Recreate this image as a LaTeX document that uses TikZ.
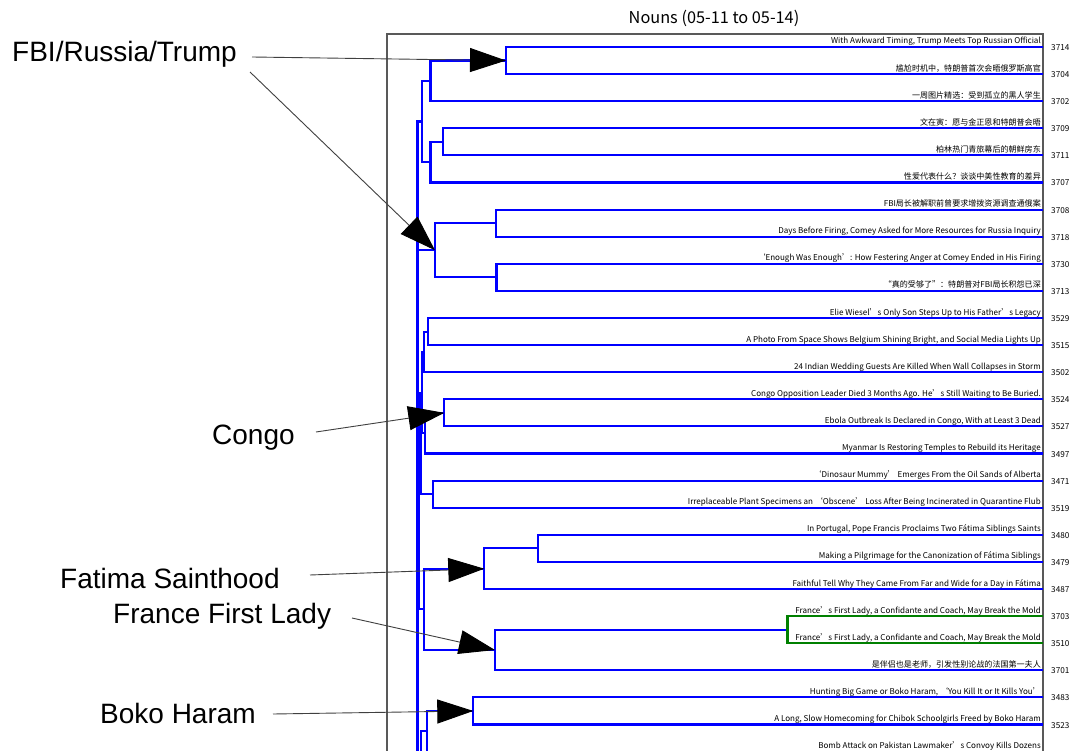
\documentclass[tikz,border=0pt]{standalone}
\usepackage{fontspec}
\setmainfont{Noto Sans CJK SC}
\newfontfamily\arialfont{Liberation Sans}
\usetikzlibrary{arrows.meta}
\tikzset{
  dend/.style={draw=blue, line width=2.1pt, line join=miter},
  dendg/.style={draw=green!50!black, line width=2.1pt, line join=miter},
  frame/.style={draw=black!65, line width=1.3pt},
  leaf/.style={anchor=base east, inner sep=0pt, font=\fontsize{8.05}{10}\selectfont},
  idl/.style={anchor=base west, inner sep=0pt, font=\fontsize{8.2}{10}\selectfont},
  big/.style={anchor=base west, inner sep=0pt, font=\arialfont\fontsize{28}{30}\selectfont},
  callout/.style={draw=black!75, line width=0.9pt, -{Triangle[length=36pt,width=24pt,black]}},
}
\begin{document}
\begin{tikzpicture}[x=1pt,y=-1pt]
\useasboundingbox (0,0) rectangle (1073,751);
\clip (0,0) rectangle (1073,751);
\fill[white] (0,0) rectangle (1073,751);
% title and frame
\node[font=\fontsize{16.3}{18}\selectfont, inner sep=0pt] (title) at (714,18) {Nouns (05-11 to 05-14)};
\draw[frame] (387,800) -- (387,34) -- (1043,34) -- (1043,800);
% leaf labels
\foreach [count=\i from 0] \n/\t in {
 3714/{With Awkward Timing, Trump Meets Top Russian Official},
 3704/{尴尬时机中，特朗普首次会晤俄罗斯高官},
 3702/{一周图片精选：受到孤立的黑人学生},
 3709/{文在寅：愿与金正恩和特朗普会晤},
 3711/{柏林热门青旅幕后的朝鲜房东},
 3707/{性爱代表什么？谈谈中美性教育的差异},
 3708/{FBI局长被解职前曾要求增拨资源调查通俄案},
 3718/{Days Before Firing, Comey Asked for More Resources for Russia Inquiry},
 3730/{‘Enough Was Enough’: How Festering Anger at Comey Ended in His Firing},
 3713/{“真的受够了”：特朗普对FBI局长积怨已深},
 3529/{Elie Wiesel’s Only Son Steps Up to His Father’s Legacy},
 3515/{A Photo From Space Shows Belgium Shining Bright, and Social Media Lights Up},
 3502/{24 Indian Wedding Guests Are Killed When Wall Collapses in Storm},
 3524/{Congo Opposition Leader Died 3 Months Ago. He’s Still Waiting to Be Buried.},
 3527/{Ebola Outbreak Is Declared in Congo, With at Least 3 Dead},
 3497/{Myanmar Is Restoring Temples to Rebuild its Heritage},
 3471/{‘Dinosaur Mummy’ Emerges From the Oil Sands of Alberta},
 3519/{Irreplaceable Plant Specimens an ‘Obscene’ Loss After Being Incinerated in Quarantine Flub},
 3480/{In Portugal, Pope Francis Proclaims Two Fátima Siblings Saints},
 3479/{Making a Pilgrimage for the Canonization of Fátima Siblings},
 3487/{Faithful Tell Why They Came From Far and Wide for a Day in Fátima},
 3703/{France’s First Lady, a Confidante and Coach, May Break the Mold},
 3510/{France’s First Lady, a Confidante and Coach, May Break the Mold},
 3701/{是伴侣也是老师，引发性别论战的法国第一夫人},
 3483/{Hunting Big Game or Boko Haram, ‘You Kill It or It Kills You’},
 3523/{A Long, Slow Homecoming for Chibok Schoolgirls Freed by Boko Haram},
 0000/{Bomb Attack on Pakistan Lawmaker’s Convoy Kills Dozens}}
{
  \node[leaf] (t\i) at (1041,{47+27.1*\i-3}) {\t};
  \ifnum\n>0 \node[idl] (n\i) at (1051,{47+27.1*\i+3.5}) {\n};\fi
}
% dendrogram
\draw[dend] (1043,47) -- (506,47) -- (506,74.1) -- (1043,74.1);
\draw[dend] (506,60.55) -- (430.5,60.55) -- (430.5,101.2) -- (1043,101.2);
\draw[dend] (1043,128.3) -- (443.3,128.3) -- (443.3,155.4) -- (1043,155.4);
\draw[dend] (443.3,141.85) -- (430.5,141.85) -- (430.5,182.5) -- (1043,182.5);
\draw[dend] (430.5,80.9) -- (421.7,80.9) -- (421.7,162.2) -- (430.5,162.2);
\draw[dend] (1043,209.6) -- (496,209.6) -- (496,236.7) -- (1043,236.7);
\draw[dend] (1043,263.8) -- (496.5,263.8) -- (496.5,290.9) -- (1043,290.9);
\draw[dend] (496,223.15) -- (435,223.15) -- (435,277.35) -- (496.5,277.35);
\draw[dend] (421.7,121.55) -- (417.5,121.55) -- (417.5,250.25) -- (435,250.25);
\draw[dend] (1043,318) -- (428.3,318) -- (428.3,345.1) -- (1043,345.1);
\draw[dend] (428.3,331.55) -- (424,331.55) -- (424,372.2) -- (1043,372.2);
\draw[dend] (1043,399.3) -- (444.3,399.3) -- (444.3,426.4) -- (1043,426.4);
\draw[dend] (444.3,412.85) -- (425,412.85) -- (425,453.5) -- (1043,453.5);
\draw[dend] (424,351.9) -- (422,351.9) -- (422,433.2) -- (425,433.2);
\draw[dend] (1043,480.6) -- (433.3,480.6) -- (433.3,507.7) -- (1043,507.7);
\draw[dend] (422,392.55) -- (420.5,392.55) -- (420.5,494.15) -- (433.3,494.15);
\draw[dend] (1043,534.8) -- (538,534.8) -- (538,561.9) -- (1043,561.9);
\draw[dend] (538,548.35) -- (484.3,548.35) -- (484.3,589) -- (1043,589);
\draw[dend] (787.5,629.65) -- (495,629.65) -- (495,670.3) -- (1043,670.3);
\draw[dendg] (1043,616.1) -- (787.5,616.1) -- (787.5,643.2) -- (1043,643.2);
\draw[dend] (484.3,568.7) -- (424,568.7) -- (424,650) -- (495,650);
\draw[dend] (420.5,443.35) -- (419,443.35) -- (419,609.35) -- (424,609.35);
\draw[dend] (1043,697.4) -- (473.3,697.4) -- (473.3,724.5) -- (1043,724.5);
\draw[dend] (473.3,710.95) -- (426.7,710.95) -- (426.7,751.6) -- (1043,751.6);
\draw[dend] (426.7,731.3) -- (421,731.3) -- (421,800);
\draw[dend] (417.5,185.9) -- (417.5,800);
\draw[dend] (419,526.35) -- (417.5,526.35);
% merge points used by callouts
\coordinate (mTrump) at (506,60.55);
\coordinate (mFBI) at (435,250.25);
\coordinate (mCongo) at (444.3,412.85);
\coordinate (mFatima) at (484.3,568.7);
\coordinate (mFrance) at (495,650);
\coordinate (mBoko) at (473.3,710.95);
% callout labels
\node[big] (lFBI) at (12,62) {FBI/Russia/Trump};
\node[big] (lCongo) at (212,444) {Congo};
\node[big] (lFatima) at (60,588) {Fatima Sainthood};
\node[big] (lFrance) at (113,623) {France First Lady};
\node[big] (lBoko) at (100,723) {Boko Haram};
\coordinate (sFBIa) at (252,57);
\coordinate (sFBIb) at (250,72);
\coordinate (sCongo) at (316,432);
\coordinate (sFatima) at (310,575);
\coordinate (sFrance) at (352,618);
\coordinate (sBoko) at (273,714);
\draw[callout] (sFBIa) -- (mTrump);
\draw[callout] (sFBIb) -- (mFBI);
\draw[callout] (sCongo) -- (mCongo);
\draw[callout] (sFatima) -- (mFatima);
\draw[callout] (sFrance) -- (mFrance);
\draw[callout] (sBoko) -- (mBoko);
\end{tikzpicture}
\end{document}
